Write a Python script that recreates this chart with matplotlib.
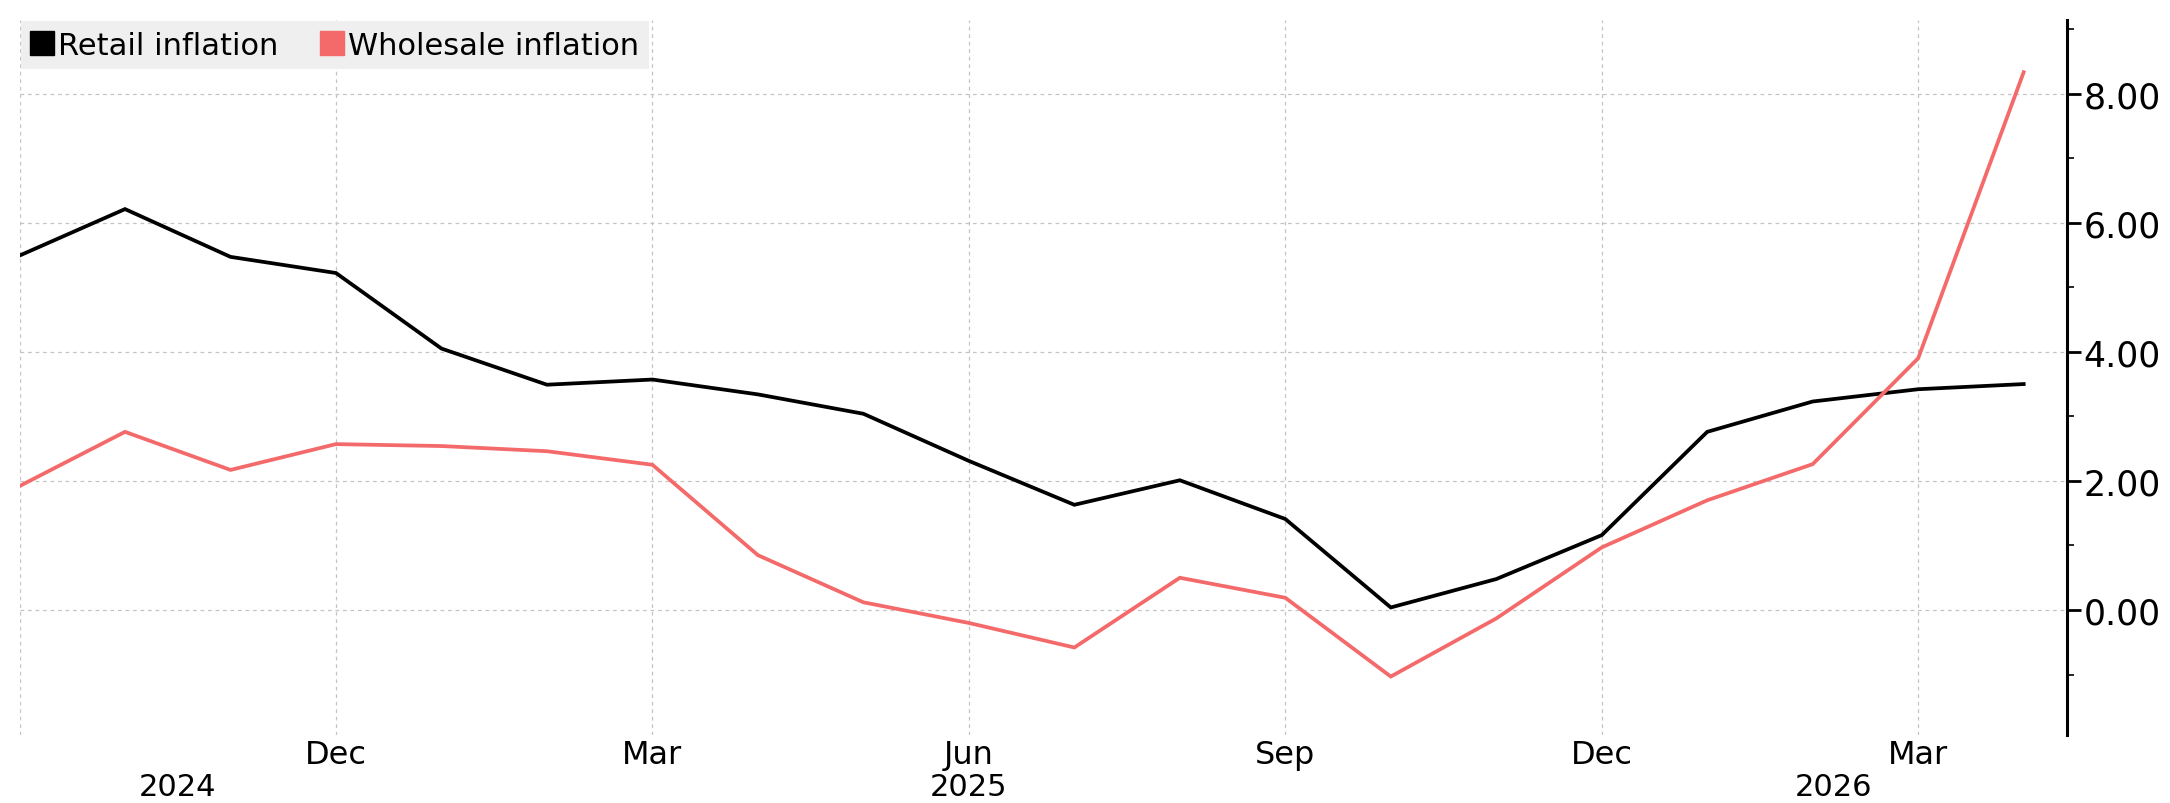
import matplotlib.pyplot as plt
from matplotlib.lines import Line2D
from matplotlib.ticker import FixedLocator, FormatStrFormatter

# Monthly readings, Sep 2024 to Apr 2026
months = ['Sep', 'Oct', 'Nov', 'Dec', 'Jan', 'Feb', 'Mar', 'Apr', 'May', 'Jun',
          'Jul', 'Aug', 'Sep', 'Oct', 'Nov', 'Dec', 'Jan', 'Feb', 'Mar', 'Apr']
retail = [5.49, 6.21, 5.47, 5.22, 4.05, 3.49, 3.57, 3.34, 3.04, 2.31,
          1.63, 2.01, 1.41, 0.04, 0.48, 1.16, 2.76, 3.23, 3.42, 3.50]
wholesale = [1.92, 2.76, 2.17, 2.57, 2.54, 2.46, 2.25, 0.85, 0.12, -0.20,
             -0.58, 0.50, 0.19, -1.03, -0.13, 0.97, 1.70, 2.26, 3.90, 8.33]
years = ['2024', '2025', '2026']
year_pos = [1.5, 9.0, 17.2]

RED = '#f46a6a'
GRID = '#c4c4c4'

x = list(range(len(months)))

fig = plt.figure(figsize=(21.7, 8.04), dpi=100)
ax = fig.add_axes([0.009, 0.085, 0.9435, 0.889])

ax.plot(x, retail, color='black', lw=2.7, solid_joinstyle='miter', zorder=3)
ax.plot(x, wholesale, color=RED, lw=2.7, solid_joinstyle='miter', zorder=3)

ax.set_xlim(0, 19.41)
ax.set_ylim(-1.93, 9.14)

# x axis: quarterly gridlines, month names under them
qtr = x[::3]
ax.set_xticks(qtr)
ax.set_xticklabels([''] + [months[i] for i in qtr[1:]])
ax.tick_params(axis='x', length=0, pad=3, labelsize=23)

for lab, pos in zip(years, year_pos):
    ax.text(pos, -0.072, lab, transform=ax.get_xaxis_transform(),
            ha='center', va='center', fontsize=22)

# y axis on the right
ax.yaxis.tick_right()
ax.yaxis.set_major_locator(FixedLocator([0, 2, 4, 6, 8]))
ax.yaxis.set_minor_locator(FixedLocator([-1, 1, 3, 5, 7, 9]))
ax.yaxis.set_major_formatter(FormatStrFormatter('%.2f'))
ax.tick_params(axis='y', which='major', direction='out', length=10, width=2,
               pad=2, labelsize=25)
ax.tick_params(axis='y', which='minor', direction='out', length=5, width=1.2)

ax.grid(True, which='major', color=GRID, lw=0.9, ls=(0, (3, 3)))

for side in ['top', 'left', 'bottom']:
    ax.spines[side].set_visible(False)
ax.spines['right'].set_linewidth(2.2)

handles = [Line2D([], [], ls='none', marker='s', ms=17, color='black'),
           Line2D([], [], ls='none', marker='s', ms=17, color=RED)]
leg = ax.legend(handles, ['Retail inflation', 'Wholesale inflation'],
                loc='upper left', ncol=2, frameon=True, fancybox=False,
                facecolor='#efefef', edgecolor='none', framealpha=1,
                prop={'size': 22}, handlelength=0.75, handletextpad=0.15,
                columnspacing=1.4, borderpad=0.3, borderaxespad=0.05)

fig.savefig('out.png', dpi=100)
